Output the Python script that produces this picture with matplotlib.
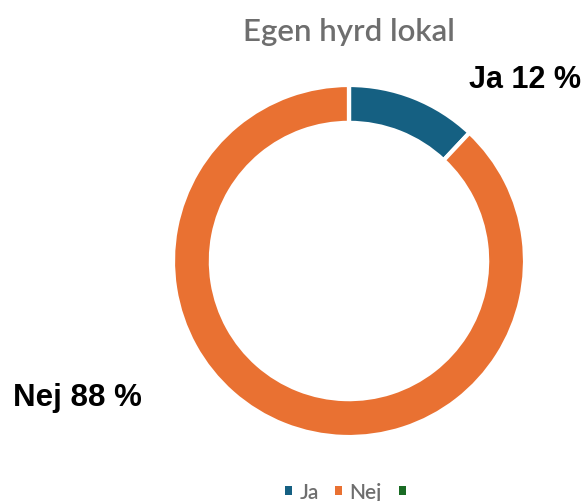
import matplotlib.pyplot as plt
from matplotlib.patches import Patch

categories = ["Ja", "Nej", ""]
values = [12, 88, 0]
colors = ["#156082", "#E97132", "#196B24"]
labels = ["Ja 12 %", "Nej 88 %"]

W, H = 587, 502
fig = plt.figure(figsize=(W / 100, H / 100), dpi=100)

cx, cy, r = 349, 262, 176
ax = fig.add_axes([(cx - r) / W, 1 - (cy + r) / H, 2 * r / W, 2 * r / H])
ax.pie(values, colors=colors, startangle=90, counterclock=False, radius=1,
       wedgeprops=dict(width=0.215, edgecolor="white", linewidth=3))
ax.set_xlim(-1, 1)
ax.set_ylim(-1, 1)
ax.set_aspect("equal")
ax.axis("off")

fig.text(cx / W, 1 - 32 / H, "Egen hyrd lokal", ha="center", va="center",
         fontsize=22.5, color="#6e6e6e", family="Lato", fontweight="semibold")

fig.text(525 / W, 1 - 80 / H, labels[0], ha="center", va="center",
         fontsize=22, fontweight="bold", family="Liberation Sans")
fig.text(77 / W, 1 - 398 / H, labels[1], ha="center", va="center",
         fontsize=22.5, fontweight="bold", family="Liberation Sans")

handles = [Patch(facecolor=c, edgecolor="none") for c in colors]
fig.legend(handles, categories, loc="center", bbox_to_anchor=(cx / W, 1 - 493 / H),
           ncol=3, frameon=False, handlelength=0.33, handleheight=0.33,
           handletextpad=0.35, columnspacing=0.8,
           prop=dict(family="Lato", size=15, weight="semibold"), labelcolor="#6e6e6e")

fig.savefig("out.png", dpi=100, facecolor="white")
